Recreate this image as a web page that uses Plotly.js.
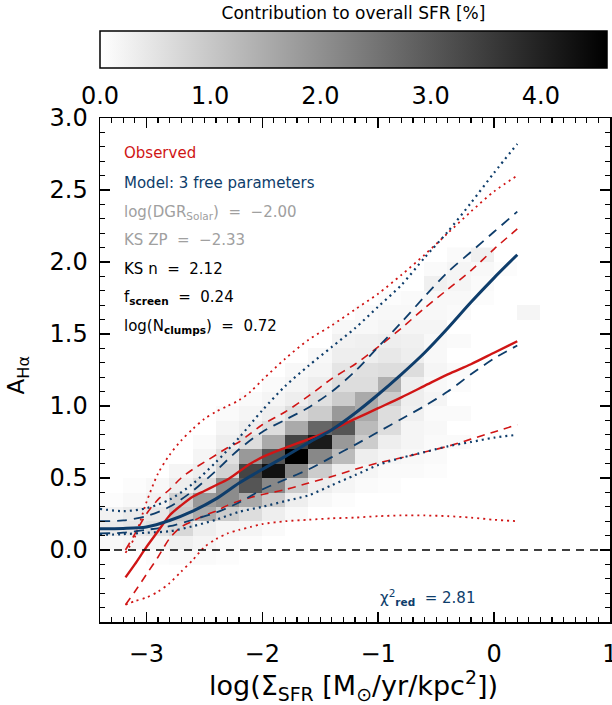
<!DOCTYPE html>
<html>
<head>
<meta charset="utf-8">
<script src="https://cdn.plot.ly/plotly-3.0.1.min.js"></script>
<style>
html,body{margin:0;padding:0;background:#fff;}
#chart{width:612px;height:705px;}
</style>
</head>
<body>
<div id="chart"></div>
<script>
// ---- Heatmap: contribution to overall SFR [%] per (log SigmaSFR, A_Halpha) bin ----
var binX = [-3.3,-3.1,-2.9,-2.7,-2.5,-2.3,-2.1,-1.9,-1.7,-1.5,-1.3,-1.1,-0.9,-0.7,-0.5,-0.3,-0.1,0.1,0.3];
var binY = [-0.05,0.05,0.15,0.25,0.35,0.45,0.55,0.65,0.75,0.85,0.95,1.05,1.15,1.25,1.35,1.45,1.55,1.65,1.75,1.85,1.95,2.05];
var n = null;
var sfrContribution = [
  [n,n,0.05,0.09,0.09,0.05,n,n,n,n,n,n,n,n,n,n,n,n,n],
  [0.13,0.18,0.18,0.27,0.18,0.09,0.05,n,n,n,n,n,n,n,n,n,n,n,n],
  [0.36,0.45,0.56,0.70,0.31,0.18,0.18,0.09,n,n,n,n,n,n,n,n,n,n,n],
  [0.23,0.36,0.41,0.99,1.53,0.92,0.61,0.31,0.13,n,n,n,n,n,n,n,n,n,n],
  [0.05,0.13,0.23,0.85,1.84,2.07,1.53,0.92,0.31,0.13,0.05,n,n,n,n,n,n,n,n],
  [n,0.05,0.13,0.31,0.61,2.07,3.07,2.15,0.92,0.31,0.18,0.09,0.05,n,n,n,n,n,n],
  [n,n,n,0.18,0.31,0.81,3.37,4.29,2.15,0.92,0.31,0.18,0.09,0.09,0.05,n,n,n,n],
  [n,n,n,n,0.18,0.56,1.84,3.07,4.60,2.15,1.23,0.31,0.18,0.13,0.09,n,n,n,n],
  [n,n,n,n,0.09,0.31,0.61,1.53,3.37,4.13,1.84,0.92,0.31,0.18,0.09,0.09,n,n,n],
  [n,n,n,n,n,0.18,0.31,0.61,1.53,2.76,3.07,1.23,0.61,0.18,0.13,n,n,n,n],
  [n,n,n,n,n,0.09,0.18,0.31,0.61,0.92,1.84,1.53,0.61,0.27,0.09,0.09,n,n,n],
  [n,n,n,n,n,n,0.09,0.18,0.31,0.56,0.92,1.53,0.92,0.31,0.18,n,n,n,n],
  [n,n,n,n,n,n,n,0.09,0.18,0.31,0.61,0.61,1.43,0.31,0.13,0.05,n,n,n],
  [n,n,n,n,n,n,n,n,0.13,0.18,0.47,0.56,0.61,0.61,0.18,0.09,n,n,n],
  [n,n,n,n,n,n,n,n,n,0.13,0.31,0.31,0.41,0.31,0.13,n,n,n,n],
  [n,n,n,n,n,n,n,n,n,n,0.23,0.27,0.31,0.27,0.13,0.09,n,n,n],
  [n,n,n,n,n,n,n,n,n,n,0.13,0.13,0.18,0.18,0.18,n,n,n,n],
  [n,n,n,n,n,n,n,n,n,n,n,0.09,0.13,0.13,0.13,0.09,n,n,0.18],
  [n,n,n,n,n,n,n,n,n,n,n,n,0.05,0.09,0.13,0.13,0.05,n,n],
  [n,n,n,n,n,n,n,n,n,n,n,n,n,n,0.27,0.18,0.09,n,n],
  [n,n,n,n,n,n,n,n,n,n,n,n,n,n,0.09,0.18,0.13,0.05,n],
  [n,n,n,n,n,n,n,n,n,n,n,n,n,n,n,0.09,0.27,n,n]
];

// ---- Observed relation (median and percentiles) ----
var obsX = [-3.18,-3.1,-3.0,-2.9,-2.8,-2.7,-2.6,-2.5,-2.4,-2.3,-2.2,-2.1,-2.0,-1.8,-1.6,-1.4,-1.2,-1.0,-0.8,-0.6,-0.4,-0.2,0.0,0.2];
var obsMedian = [-0.19,-0.10,0.02,0.13,0.24,0.31,0.37,0.41,0.45,0.49,0.545,0.60,0.645,0.71,0.77,0.835,0.91,0.985,1.06,1.14,1.22,1.29,1.37,1.45];
var obsHi1 = [0.0,0.11,0.25,0.35,0.42,0.50,0.56,0.61,0.66,0.71,0.75,0.81,0.87,0.96,1.07,1.19,1.29,1.41,1.54,1.68,1.81,1.94,2.09,2.23];
var obsLo1 = [-0.38,-0.29,-0.17,-0.05,0.08,0.16,0.20,0.24,0.27,0.31,0.34,0.365,0.385,0.42,0.465,0.51,0.56,0.605,0.64,0.68,0.72,0.77,0.82,0.87];
var obsHi2 = [-0.02,0.09,0.33,0.53,0.66,0.76,0.84,0.91,0.96,1.0,1.04,1.10,1.18,1.33,1.46,1.56,1.67,1.78,1.91,2.05,2.20,2.35,2.49,2.60];
var obsLo2 = [-0.38,-0.355,-0.33,-0.29,-0.23,-0.15,-0.07,0.02,0.075,0.115,0.14,0.16,0.18,0.20,0.21,0.22,0.225,0.235,0.24,0.24,0.235,0.225,0.21,0.20];

// ---- Model (3 free parameters) ----
var modX = [-3.4,-3.2,-3.0,-2.8,-2.6,-2.4,-2.2,-2.0,-1.8,-1.6,-1.4,-1.2,-1.0,-0.8,-0.6,-0.4,-0.2,0.0,0.2];
var modMedian = [0.148,0.15,0.16,0.205,0.27,0.355,0.465,0.56,0.65,0.745,0.835,0.95,1.08,1.22,1.37,1.54,1.72,1.89,2.05];
var modHi1 = [0.2,0.205,0.235,0.30,0.41,0.55,0.70,0.82,0.905,0.99,1.10,1.24,1.41,1.58,1.76,1.93,2.07,2.21,2.35];
var modLo1 = [0.115,0.12,0.14,0.165,0.21,0.26,0.33,0.42,0.49,0.56,0.645,0.73,0.82,0.91,1.0,1.1,1.22,1.33,1.42];
var modHi2 = [0.285,0.27,0.29,0.35,0.46,0.61,0.78,0.97,1.14,1.28,1.41,1.54,1.69,1.84,2.03,2.21,2.41,2.62,2.82];
var modLo2 = [0.105,0.11,0.12,0.13,0.165,0.21,0.265,0.30,0.34,0.38,0.45,0.52,0.59,0.64,0.68,0.72,0.75,0.78,0.80];

var xTicks = [-3,-2,-1,0,1];
var yTicks = [0,0.5,1,1.5,2,2.5,3];
var cbTicks = [0,1,2,3,4];

var legendLines = [
  {text:'Observed', color:'#d01515'},
  {text:'Model: 3 free parameters', color:'#0e3d6b'},
  {text:'log(DGR<sub>Solar</sub>)  =  \u22122.00', color:'#a0a0a0'},
  {text:'KS ZP  =  \u22122.33', color:'#a0a0a0'},
  {text:'KS n  =  2.12', color:'#000000'},
  {text:'f<sub><b>screen</b></sub>  =  0.24', color:'#000000'},
  {text:'log(N<sub><b>clumps</b></sub>)  =  0.72', color:'#000000'}
];
var chiText = '\u03c7<sup>2</sup><sub><b>red</b></sub>  = 2.81';

var RED = '#d01515', BLUE = '#0e3d6b';
var FONT = 'DejaVu Sans, sans-serif';

function line(x, y, color, width, dash) {
  return {type:'scatter', mode:'lines', x:x, y:y, hoverinfo:'skip', showlegend:false,
          line:{color:color, width:width, dash:dash, shape:'spline', smoothing:0.8}};
}

var traces = [
  {type:'heatmap', x:binX, y:binY, z:sfrContribution, zmin:0, zmax:4.6,
   colorscale:[[0,'#ffffff'],[1,'#000000']], hoverinfo:'skip', xgap:0, ygap:0,
   colorbar:{orientation:'h', x:0.497, xanchor:'center', y:1.212, yanchor:'top',
     len:0.994, lenmode:'fraction', thickness:37, thicknessmode:'pixels',
     outlinecolor:'#000', outlinewidth:1.5, xpad:0, ypad:0,
     tickvals:cbTicks, tickformat:'.1f', ticks:'outside', ticklen:7, tickcolor:'rgba(0,0,0,0)',
     tickfont:{family:FONT, size:24, color:'#000'},
     title:{text:'Contribution to overall SFR [%]', side:'top', font:{family:FONT, size:17, color:'#000'}}}},
  line(obsX, obsHi2, RED, 1.8, '2px,4px'),
  line(obsX, obsLo2, RED, 1.8, '2px,4px'),
  line(obsX, obsHi1, RED, 1.6, '8px,6px'),
  line(obsX, obsLo1, RED, 1.6, '8px,6px'),
  line(modX, modHi2, BLUE, 2.2, '2px,4px'),
  line(modX, modLo2, BLUE, 2.2, '2px,4px'),
  line(modX, modHi1, BLUE, 1.8, '10px,7px'),
  line(modX, modLo1, BLUE, 1.8, '10px,7px'),
  line(obsX, obsMedian, RED, 2.4, 'solid'),
  line(modX, modMedian, BLUE, 3, 'solid')
];

var annotations = [];
var legendY = [0.9315, 0.872, 0.8125, 0.757, 0.701, 0.644, 0.587];
for (var i = 0; i < legendLines.length; i++) {
  annotations.push({xref:'paper', yref:'paper', x:0.043, y:legendY[i], xanchor:'left', yanchor:'middle',
    showarrow:false, text:legendLines[i].text, font:{family:FONT, size:15, color:legendLines[i].color}});
}
annotations.push({xref:'paper', yref:'paper', x:0.545, y:0.048, xanchor:'left', yanchor:'middle',
  showarrow:false, text:chiText, font:{family:FONT, size:15, color:BLUE}});
annotations.push({xref:'paper', yref:'paper', x:-0.16, y:0.49, xanchor:'center', yanchor:'middle',
  showarrow:false, textangle:-90, text:'A<sub>H\u03b1</sub>', font:{family:FONT, size:23, color:'#000'}});
annotations.push({xref:'paper', yref:'paper', x:0.497, y:-0.126, xanchor:'center', yanchor:'middle',
  showarrow:false, text:'log(\u03a3<sub>SFR</sub> [M<sub>\u2299</sub>/yr/kpc<sup>2</sup>])', font:{family:FONT, size:27, color:'#000'}});

var axisCommon = {showline:true, linecolor:'#000', linewidth:1.5, mirror:'allticks', ticks:'inside',
  tickcolor:'#000', tickwidth:1.5, ticklen:10, showgrid:false, zeroline:false, ticklabeloverflow:'allow',
  tickfont:{family:FONT, size:24, color:'#000'}};

var layout = {
  width:612, height:705,
  margin:{l:100, r:2, t:118, b:83, pad:0},
  paper_bgcolor:'#fff', plot_bgcolor:'#fff',
  showlegend:false,
  xaxis:Object.assign({}, axisCommon, {range:[-3.4,1.0], tickvals:xTicks, ticklabelstandoff:10,
    minor:{dtick:0.1, ticks:'inside', ticklen:5, tickcolor:'#000', tickwidth:1.2}}),
  yaxis:Object.assign({}, axisCommon, {range:[-0.5,3.0], tickvals:yTicks, tickformat:'.1f', ticklabelstandoff:6,
    minor:{dtick:0.1, ticks:'inside', ticklen:5, tickcolor:'#000', tickwidth:1.2}}),
  shapes:[{type:'line', xref:'paper', x0:0, x1:1, yref:'y', y0:0, y1:0,
    line:{color:'#000', width:1.3, dash:'8px,6px'}, layer:'above'}],
  annotations:annotations
};

Plotly.newPlot('chart', traces, layout, {displayModeBar:false, staticPlot:true});
</script>
</body>
</html>
